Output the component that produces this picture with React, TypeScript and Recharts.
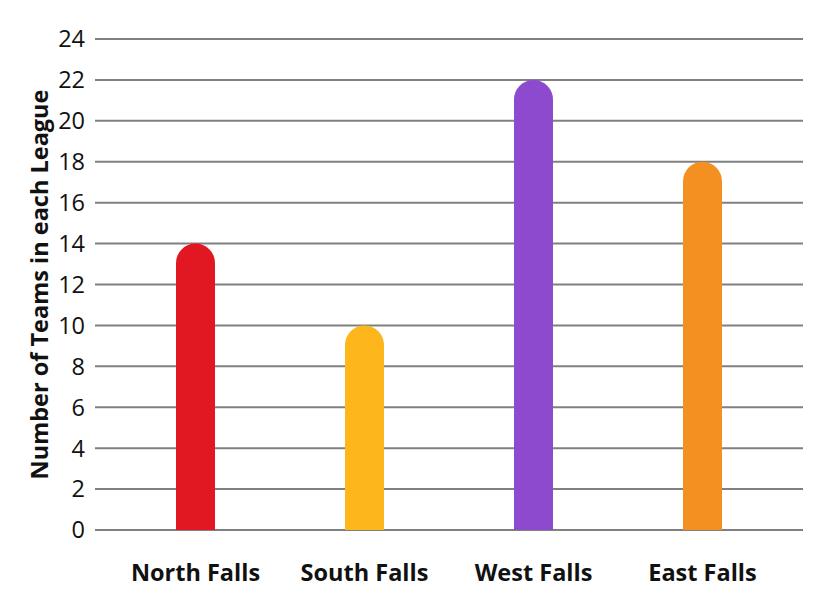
import React from 'react';
import { BarChart, Bar, XAxis, YAxis, CartesianGrid, Cell, Label } from 'recharts';

const leagues = ['North Falls', 'South Falls', 'West Falls', 'East Falls'];
const teams = [14, 10, 22, 18];
const barColors = ['#E11822', '#FDB61B', '#8D4ACE', '#F39021'];
const yTicks = [0, 2, 4, 6, 8, 10, 12, 14, 16, 18, 20, 22, 24];

const data = leagues.map((name, i) => ({ name, teams: teams[i] }));

const font = '"Open Sans", "Noto Sans", sans-serif';

export default function App() {
  return (
    <div style={{ margin: -8, width: 834, height: 611, background: '#fff' }}>
      <BarChart
        width={834}
        height={611}
        data={data}
        margin={{ top: 39, right: 31, bottom: 0, left: 20 }}
      >
        <CartesianGrid vertical={false} stroke="#808080" strokeWidth={2} />
        <XAxis
          dataKey="name"
          axisLine={false}
          tickLine={false}
          height={81}
          tickMargin={28}
          padding={{ left: 16, right: 16 }}
          tick={{ fontSize: 23.5, fontWeight: 700, fill: '#111', fontFamily: font }}
        />
        <YAxis
          width={75}
          domain={[0, 24]}
          ticks={yTicks}
          interval={0}
          axisLine={false}
          tickLine={false}
          tickMargin={4}
          tick={{ fontSize: 23.5, fontWeight: 500, fill: '#111', fontFamily: font }}
        >
          <Label
            value="Number of Teams in each League"
            angle={-90}
            position="insideLeft"
            offset={20}
            style={{ fontSize: 23.5, fontWeight: 700, fill: '#111', fontFamily: font, textAnchor: 'middle' }}
          />
        </YAxis>
        <Bar dataKey="teams" barSize={39} radius={[19.5, 19.5, 0, 0]} isAnimationActive={false}>
          {data.map((d, i) => (
            <Cell key={d.name} fill={barColors[i]} />
          ))}
        </Bar>
      </BarChart>
    </div>
  );
}
